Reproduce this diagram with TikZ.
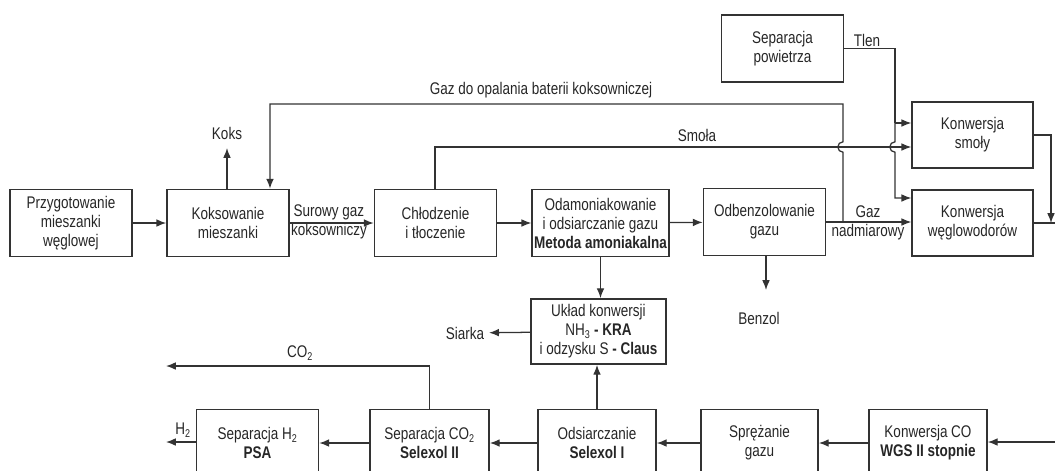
\documentclass[tikz,border=0pt]{standalone}
\usepackage{fontspec}
\setmainfont[FakeStretch=0.8]{Liberation Sans}
\usepackage{tikz}
\usetikzlibrary{positioning, arrows.meta}

\begin{document}
\begin{tikzpicture}[x=0.025cm, y=-0.025cm,
	every node/.style={font=\fontsize{12}{13.5}\selectfont, text=black!85},
	blok/.style={draw=black!80, line width=1.1pt, minimum width=3.05cm, minimum height=1.68cm, align=center, inner sep=0pt},
	strz/.style={draw=black!80, line width=0.9pt, -{Latex[length=7pt, width=5.5pt]}},
	linia/.style={draw=black!80, line width=0.9pt}]
	\useasboundingbox (0,0) rectangle (1055,470);
	\clip (0,0) rectangle (1055,470);
	\node[blok] (przyg) at (71, 223) {Przygotowanie\\mieszanki\\węglowej};
	\node[blok] (koks) at (228, 223) {Koksowanie\\mieszanki};
	\node[blok] (chlodz) at (435.5, 223) {Chłodzenie\\i tłoczenie};
	\node[blok, minimum width=3.42cm] (odam) at (600.5, 223) {Odamoniakowanie\\i odsiarczanie gazu\\\textbf{Metoda amoniakalna}};
	\node[blok] (odbenz) at (764.5, 222) {Odbenzolowanie\\gazu};
	\node[blok] (powietrze) at (782.5, 48.5) {Separacja\\powietrza};
	\node[blok, minimum width=3.02cm, minimum height=1.65cm] (smoly) at (972.5, 135) {Konwersja\\smoły};
	\node[blok, minimum width=3.02cm, minimum height=1.65cm] (weglo) at (972.5, 223) {Konwersja\\węglowodorów};
	\node[blok, minimum width=3.38cm, minimum height=1.63cm] (uklad) at (598.5, 331.5) {Układ konwersji\\NH\textsubscript{3} \textbf{- KRA}\\i odzysku S \textbf{- Claus}};
	\node[blok] (sepH) at (257.5, 443) {Separacja H\textsubscript{2}\\\textbf{PSA}};
	\node[blok, minimum width=2.98cm] (sepCO) at (429.5, 443) {Separacja CO\textsubscript{2}\\\textbf{Selexol II}};
	\node[blok, minimum width=2.95cm] (odsiarcz) at (597, 443) {Odsiarczanie\\\textbf{Selexol I}};
	\node[blok, minimum width=2.93cm] (sprez) at (759.5, 443) {Sprężanie\\gazu};
	\node[blok, minimum width=2.95cm] (konwCO) at (928, 443) {Konwersja CO\\\textbf{WGS II stopnie}};

	\node (lkoks) at (227, 133) {Koks};
	\node (lgaz) at (541, 90) {Gaz do opalania baterii koksowniczej};
	\node (lsmola) at (697, 135) {Smoła};
	\node (ltlen) at (867, 40) {Tlen};
	\node (lsurowy) at (329, 212) {Surowy gaz};
	\node (lkoksown) at (329, 231) {koksowniczy};
	\node (lgazn) at (868, 212) {Gaz};
	\node (lnadm) at (868, 232) {nadmiarowy};
	\node (benzol) at (759, 318) {Benzol};
	\node (siarka) at (465, 333) {Siarka};
	\node (lco) at (300, 353) {CO\textsubscript{2}};
	\node (lh) at (183, 430) {H\textsubscript{2}};

	\coordinate (koksgora) at (227, 148);
	\coordinate (gazlewo) at (270, 104);
	\coordinate (gazprawo) at (843, 104);
	\coordinate (gazdol) at (843, 222);
	\coordinate (smolalewo) at (435, 147);
	\coordinate (tlenA) at (895, 123);
	\coordinate (tlenB) at (895, 198);
	\coordinate (zbior) at (1051, 135);
	\coordinate (wyjscie) at (1058, 223);
	\coordinate (wejscie) at (1058, 442);
	\coordinate (benzolgora) at (766, 290);
	\coordinate (cowyj) at (166, 366);
	\coordinate (hwyj) at (166, 442);

	\draw[strz] (przyg) -- (koks);
	\draw[strz] (koks) -- (chlodz);
	\draw[strz] (chlodz) -- (odam);
	\draw[strz] (odam) -- (odbenz);
	\draw[strz] (odbenz.east) -- (weglo.west |- odbenz.east);
	\draw[strz] (koks.north -| koksgora) -- (koksgora);
	\draw[strz] (gazdol) -- (843, 152.2) arc[start angle=270, end angle=90, radius=0.13cm] -- (gazprawo) -- (gazlewo) -- (gazlewo |- koks.north);
	\draw[strz] (chlodz.north -| smolalewo) -- (smolalewo) -- (smoly.west |- smolalewo);
	\draw[linia] (powietrze.east) -| (tlenA);
	\draw[strz] (tlenA) -- (smoly.west |- tlenA);
	\draw[strz] (tlenA) -- (895, 141.8) arc[start angle=90, end angle=270, radius=0.13cm] -- (tlenB) -- (weglo.west |- tlenB);
	\draw[strz] (smoly.east) -- (zbior) -- (zbior |- weglo.east);
	\draw[linia] (weglo.east) -- (wyjscie);
	\draw[strz] (odbenz.south -| benzolgora) -- (benzolgora);
	\draw[strz] (odam.south) -- (odam.south |- uklad.north);
	\draw[strz] (odsiarcz.north) -- (odsiarcz.north |- uklad.south);
	\draw[strz] (uklad) -- (siarka);
	\draw[strz] (wejscie) -- (konwCO.east |- wejscie);
	\draw[strz] (konwCO) -- (sprez);
	\draw[strz] (sprez) -- (odsiarcz);
	\draw[strz] (odsiarcz) -- (sepCO);
	\draw[strz] (sepCO) -- (sepH);
	\draw[strz] (sepH.west |- hwyj) -- (hwyj);
	\draw[strz] (sepCO.north) |- (cowyj);
\end{tikzpicture}
\end{document}
